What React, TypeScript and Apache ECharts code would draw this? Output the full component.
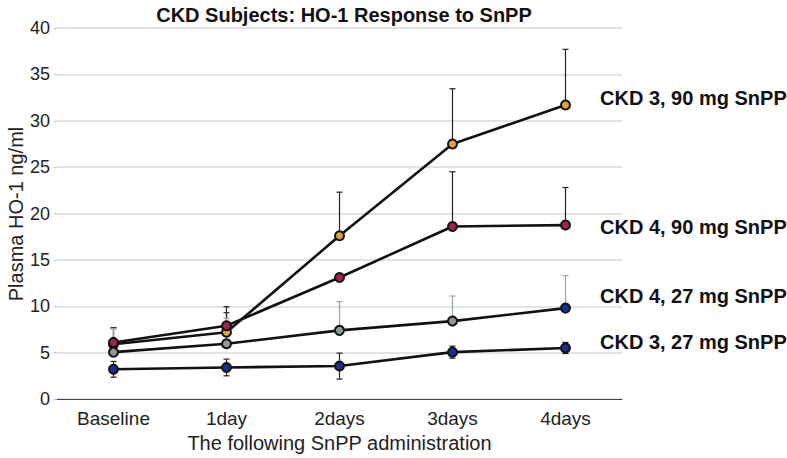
import React, { useEffect, useRef } from "react";
import * as echarts from "echarts";

const categories = ["Baseline", "1day", "2days", "3days", "4days"];

const seriesNames = ["CKD 3, 90 mg SnPP", "CKD 4, 90 mg SnPP", "CKD 4, 27 mg SnPP", "CKD 3, 27 mg SnPP"];

// means
const ckd3_90 = [5.9, 7.2, 17.6, 27.5, 31.7];
const ckd4_90 = [6.1, 7.9, 13.1, 18.6, 18.75];
const ckd4_27 = [5.05, 5.95, 7.4, 8.4, 9.8];
const ckd3_27 = [3.2, 3.4, 3.55, 5.05, 5.5];

// error bar upper limits
const ckd3_90_hi = [7.6, 9.3, 22.3, 33.45, 37.7];
const ckd4_90_hi = [7.7, 9.95, 13.1, 24.5, 22.8];
const ckd4_27_hi = [7.6, 8.7, 10.5, 11.1, 13.3];
const ckd3_27_hi = [4.05, 4.3, 4.95, 5.7, 6.1];
// lower limits (only the CKD 3, 27 mg series shows them)
const ckd3_27_lo = [2.35, 2.5, 2.15, 4.4, 4.9];

const yTicks = [0, 5, 10, 15, 20, 25, 30, 35, 40];
const yAxisTitle = "Plasma HO-1 ng/ml";

const markerColors = ["#e3a23a", "#a8234a", "#8e9a9a", "#1c2f8f"];
const barColors = ["#222222", "#222222", "#9aa6a6", "#222222"];

const labelTops = [99, 228, 297, 343];

export default function App() {
  const ref = useRef<HTMLDivElement>(null);
  useEffect(() => {
    if (!ref.current) return;
    const chart = echarts.init(ref.current, undefined, { renderer: "svg" });
    const means = [ckd3_90, ckd4_90, ckd4_27, ckd3_27];
    const his = [ckd3_90_hi, ckd4_90_hi, ckd4_27_hi, ckd3_27_hi];
    const font = "'Liberation Sans', Arial, Helvetica, sans-serif";

    const errSeries = means.map((m, si) => ({
      type: "custom",
      name: seriesNames[si] + " err",
      z: 2,
      silent: true,
      data: m.map((v, i) => [i, si === 3 ? ckd3_27_lo[i] : v, his[si][i], si === 3 ? 1 : 0]),
      renderItem: (params: any, api: any) => {
        const x = api.value(0);
        const lo = api.value(1);
        const hi = api.value(2);
        const both = api.value(3);
        const pH = api.coord([x, hi]);
        const pL = api.coord([x, lo]);
        const w = 3;
        const style = { stroke: barColors[si], lineWidth: 1.2 };
        const children: any[] = [
          { type: "line", shape: { x1: pH[0], y1: pH[1], x2: pL[0], y2: pL[1] }, style },
          { type: "line", shape: { x1: pH[0] - w, y1: pH[1], x2: pH[0] + w, y2: pH[1] }, style },
        ];
        if (both) {
          children.push({ type: "line", shape: { x1: pL[0] - w, y1: pL[1], x2: pL[0] + w, y2: pL[1] }, style });
        }
        return { type: "group", children };
      },
    }));

    const lineSeries = means.map((m, si) => ({
      type: "line",
      name: seriesNames[si],
      z: 3,
      data: m.map((v, i) => ({
        value: v,
        itemStyle: { color: si === 2 && i === 4 ? markerColors[3] : markerColors[si] },
      })),
      symbol: "circle",
      symbolSize: 9,
      lineStyle: { color: "#111111", width: 2.6 },
      itemStyle: { borderColor: "#111111", borderWidth: 2 },
    }));

    chart.setOption({
      animation: false,
      backgroundColor: "#ffffff",
      title: {
        text: "CKD Subjects: HO-1 Response to SnPP",
        left: 339,
        textAlign: "center",
        top: 0,
        textStyle: { fontFamily: font, fontSize: 20, fontWeight: "bold", color: "#111" },
      },
      grid: { left: 57, right: 165, top: 28, bottom: 59, containLabel: false, outerBoundsMode: "none" },
      xAxis: {
        type: "category",
        data: categories,
        boundaryGap: true,
        axisLine: { lineStyle: { color: "#444", width: 1.2 } },
        axisTick: { show: false },
        axisLabel: { fontFamily: font, fontSize: 19, color: "#222", margin: 10 },
        name: "The following SnPP administration",
        nameLocation: "middle",
        nameGap: 32,
        nameTextStyle: { fontFamily: font, fontSize: 20, color: "#222" },
      },
      yAxis: {
        type: "value",
        min: yTicks[0],
        max: yTicks[yTicks.length - 1],
        interval: 5,
        axisLine: { show: false },
        axisTick: { show: true, length: 3, lineStyle: { color: "#bbb" } },
        splitLine: { lineStyle: { color: "#d4dcdc", width: 1.5 } },
        axisLabel: { fontFamily: font, fontSize: 18, color: "#222", margin: 7 },
      },
      graphic: [
        ...seriesNames.map((n, i) => ({
          type: "text",
          left: 600,
          top: labelTops[i] - 11,
          style: { text: n, fontFamily: font, fontSize: 20, fontWeight: "bold", fill: "#111" },
        })),
        {
          type: "text",
          x: 16,
          y: 214,
          rotation: Math.PI / 2,
          style: {
            text: yAxisTitle,
            fontFamily: font,
            fontSize: 20,
            fill: "#222",
            align: "center",
            verticalAlign: "middle",
          },
        },
      ],
      series: [...errSeries, ...lineSeries],
    });
    return () => chart.dispose();
  }, []);
  return <div ref={ref} style={{ position: "fixed", left: 0, top: 0, width: 787, height: 458 }} />;
}
